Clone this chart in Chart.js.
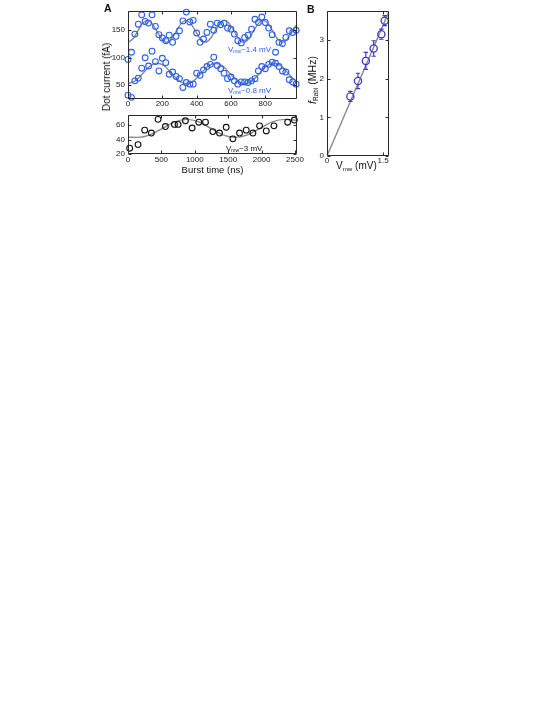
<!DOCTYPE html>
<html><head><meta charset="utf-8">
<script src="https://cdn.jsdelivr.net/npm/chart.js@4.4.1/dist/chart.umd.min.js"></script>
<style>
html,body{margin:0;padding:0;background:#fff;width:554px;height:717px;overflow:hidden;position:relative;}
canvas{position:absolute;}
.t{position:absolute;font-family:"Liberation Sans",Arial,Helvetica,sans-serif;color:#111;white-space:nowrap;line-height:1;}
.t sub{font-size:62%;vertical-align:-0.3em;line-height:0;}
.rot{transform:translate(-50%,-50%) rotate(-90deg);}
</style></head><body>
<canvas id="cA1" width="215" height="112" style="left:95px;top:0px"></canvas>
<canvas id="cA2" width="215" height="76" style="left:95px;top:105px"></canvas>
<canvas id="cB" width="100" height="175" style="left:300px;top:0px"></canvas>

<div class="t" style="left:104px;top:3px;font-size:10.5px;font-weight:bold;">A</div>
<div class="t" style="left:307px;top:4px;font-size:10.5px;font-weight:bold;">B</div>
<div class="t rot" style="left:107px;top:77px;font-size:10px;">Dot current (fA)</div>
<div class="t" style="left:228px;top:46px;font-size:8px;color:#2b5ff0;">V<sub>mw</sub>~1.4 mV</div>
<div class="t" style="left:228px;top:87px;font-size:8px;color:#2b5ff0;">V<sub>mw</sub>~0.8 mV</div>
<div class="t" style="left:226px;top:145px;font-size:8px;color:#111;">V<sub>mw</sub>~3 mV</div>
<div class="t rot" style="left:312px;top:80px;font-size:10.5px;"><i>f</i><sub>Rabi</sub> (MHz)</div>
<div class="t" style="left:336px;top:161px;font-size:10px;">V<sub>mw</sub> (mV)</div>

<script>
// ---------- Panel A (top): two drive amplitudes ----------
const burstTimeA = [0,20,40,60,80,100,120,140,160,180,200,220,240,260,280,300,320,340,360,380,400,420,440,460,480,500,520,540,560,580,600,620,640,660,680,700,720,740,760,780,800,820,840,860,880,900,920,940,960,980];
const current14 = [97,110,143,161,178,166,163,178,157,142,136,131,141,128,139,149,167,183,165,168,145,128,134,146,161,150,163,160,163,154,152,143,131,127,137,141,152,170,164,174,164,154,142,110,128,126,137,149,146,150];
const current08 = [32,28,58,63,81,100,85,112,93,76,99,91,70,74,66,62,46,55,52,52,72,68,78,84,88,101,86,80,72,62,65,58,52,56,56,55,58,62,76,84,80,88,92,90,84,76,74,60,56,52];
const fitTime14 = [0,28,56,84,112,141,169,197,225,253,281,309,337,366,394,422,450,478,506,534,562,591,619,647,675,703,731,759,787,816,844,872,900,928,956,985];
const fit14 = [128,134,148,162,168,162,148,134,128,134,148,162,168,162,148,134,128,134,148,162,168,162,148,134,128,134,148,162,168,162,148,134,128,134,148,161];
const fitTime08 = [0,43,85,128,170,213,255,298,340,383,425,468,510,553,595,638,680,723,765,808,850,893,935,978,985];
const fit08 = [53,58,71,85,90,85,71,58,53,58,71,85,90,85,71,58,53,58,71,85,90,85,71,58,57];
const xTicksA = [0,200,400,600,800];
const yTicksA = [50,100,150];

// ---------- Panel A (bottom): Vmw ~3 mV ----------
const burstTimeC = [25,150,250,350,450,560,695,750,860,960,1060,1160,1270,1370,1470,1570,1670,1770,1870,1970,2070,2185,2390,2490];
const current3 = [28,33,53,49,68,58,61,61,66,56,64,64,51,49,57,41,49,53,49,59,52,59,64,67];
const fitTime3 = [0,150,330,515,700,880,1060,1240,1420,1600,1790,1975,2160,2350,2530];
const fit3 = [43.2,43,46.5,55.5,64.5,68,64.5,55.5,46.5,43,46.5,55.5,64.5,68,66.5];
const xTicksC = [0,500,1000,1500,2000,2500];
const yTicksC = [20,40,60];

// ---------- Panel B: Rabi frequency vs amplitude ----------
const vmw = [0.625,0.83,1.04,1.25,1.455,1.545];
const fRabi = [1.54,1.94,2.46,2.78,3.15,3.5];
const fRabiErr = [0.13,0.2,0.22,0.2,0.13,0.13];
const lineV = [0,1.66];
const lineF = [0,3.74];
const xTicksB = [0,1.5];
const yTicksB = [0,1,2,3];

const FONT = '"Liberation Sans", Arial, Helvetica, sans-serif';
const BLUE_A = '#2b5ff0';
const BLUE_B = '#3c3cc8';
const GRAY = '#8a8a8a';
const pts = (xs, ys) => xs.map((x, i) => ({x, y: ys[i]}));

const boxTicks = {
  id: 'boxTicks',
  afterDraw(chart) {
    const {ctx, chartArea: a, scales: {x, y}} = chart;
    const L = Math.round(a.left) + 0.5, R = Math.round(a.right) - 0.5;
    const T = Math.round(a.top) + 0.5, B = Math.round(a.bottom) - 0.5;
    ctx.save();
    ctx.strokeStyle = '#2a2a2a';
    ctx.lineWidth = 1;
    ctx.beginPath();
    ctx.rect(L, T, R - L, B - T);
    x.ticks.forEach(t => {
      const p = Math.round(x.getPixelForValue(t.value)) + 0.5;
      ctx.moveTo(p, B); ctx.lineTo(p, B - 3);
      ctx.moveTo(p, T); ctx.lineTo(p, T + 3);
    });
    y.ticks.forEach(t => {
      const p = Math.round(y.getPixelForValue(t.value)) + 0.5;
      ctx.moveTo(L, p); ctx.lineTo(L + 3, p);
      ctx.moveTo(R, p); ctx.lineTo(R - 3, p);
    });
    ctx.stroke();
    ctx.restore();
  }
};

const errBars = {
  id: 'errBars',
  afterDatasetsDraw(chart) {
    const {ctx, scales: {x, y}} = chart;
    ctx.save();
    ctx.strokeStyle = BLUE_B;
    ctx.lineWidth = 1.2;
    const r = 3.6;
    vmw.forEach((v, i) => {
      const px = x.getPixelForValue(v);
      const py = y.getPixelForValue(fRabi[i]);
      const y1 = y.getPixelForValue(fRabi[i] - fRabiErr[i]);
      const y2 = y.getPixelForValue(fRabi[i] + fRabiErr[i]);
      ctx.beginPath();
      ctx.moveTo(px, y1); ctx.lineTo(px, py + r);
      ctx.moveTo(px, py - r); ctx.lineTo(px, y2);
      ctx.moveTo(px - 2.2, y1); ctx.lineTo(px + 2.2, y1);
      ctx.moveTo(px - 2.2, y2); ctx.lineTo(px + 2.2, y2);
      ctx.stroke();
    });
    ctx.restore();
  }
};

function axis(min, max, tickVals, opts) {
  return {
    type: 'linear', min, max,
    afterBuildTicks: s => { s.ticks = tickVals.map(v => ({value: v})); },
    afterFit: s => { if (opts.w !== undefined) s.width = opts.w; if (opts.h !== undefined) s.height = opts.h; },
    ticks: {font: {size: 8, family: FONT}, color: '#222', padding: opts.pad, autoSkip: false, maxRotation: 0, callback: v => String(v)},
    grid: {display: false, drawTicks: false},
    border: {display: false},
    title: opts.title || {display: false}
  };
}

function scatterSet(data, color, r, bw) {
  return {type: 'scatter', data, showLine: false, pointStyle: 'circle', pointRadius: r, pointHoverRadius: r,
    pointBorderWidth: bw, borderColor: color, pointBorderColor: color, backgroundColor: 'rgba(0,0,0,0)',
    pointBackgroundColor: 'rgba(0,0,0,0)', order: 1, clip: 6};
}
function lineSet(data) {
  return {type: 'scatter', data, showLine: true, borderColor: GRAY, borderWidth: 1.4, pointRadius: 0,
    pointHoverRadius: 0, cubicInterpolationMode: 'monotone', order: 2, fill: false};
}

const common = {
  responsive: false, animation: false, devicePixelRatio: 1,
  plugins: {legend: {display: false}, tooltip: {enabled: false}},
  events: []
};

new Chart(document.getElementById('cA1'), {
  type: 'scatter',
  data: {datasets: [
    lineSet(pts(fitTime14, fit14)),
    lineSet(pts(fitTime08, fit08)),
    scatterSet(pts(burstTimeA, current14), BLUE_A, 2.9, 1.1),
    scatterSet(pts(burstTimeA, current08), BLUE_A, 2.9, 1.1)
  ]},
  options: Object.assign({}, common, {
    layout: {padding: {left: 0, right: 13, top: 11, bottom: 1}},
    scales: {
      x: axis(0, 985, xTicksA, {h: 12, pad: 0}),
      y: axis(25, 185, yTicksA, {w: 33, pad: 3})
    }
  }),
  plugins: [boxTicks]
});

new Chart(document.getElementById('cA2'), {
  type: 'scatter',
  data: {datasets: [
    lineSet(pts(fitTime3, fit3)),
    scatterSet(pts(burstTimeC, current3), '#111', 2.9, 1.1)
  ]},
  options: Object.assign({}, common, {
    layout: {padding: {left: 0, right: 13, top: 10, bottom: 5}},
    scales: {
      x: axis(0, 2530, xTicksC, {h: 22, pad: 1, title: {display: true, text: 'Burst time (ns)', font: {size: 9.5, family: FONT}, color: '#111', padding: 0}}),
      y: axis(20, 74, yTicksC, {w: 33, pad: 3})
    }
  }),
  plugins: [boxTicks]
});

new Chart(document.getElementById('cB'), {
  type: 'scatter',
  data: {datasets: [
    lineSet(pts(lineV, lineF)),
    scatterSet(pts(vmw, fRabi), BLUE_B, 3.6, 1.3)
  ]},
  options: Object.assign({}, common, {
    layout: {padding: {left: 0, right: 11, top: 11, bottom: 9}},
    scales: {
      x: axis(0, 1.66, xTicksB, {h: 10, pad: 0}),
      y: axis(0, 3.75, yTicksB, {w: 27, pad: 3})
    }
  }),
  plugins: [boxTicks, errBars]
});
</script>
</body></html>
